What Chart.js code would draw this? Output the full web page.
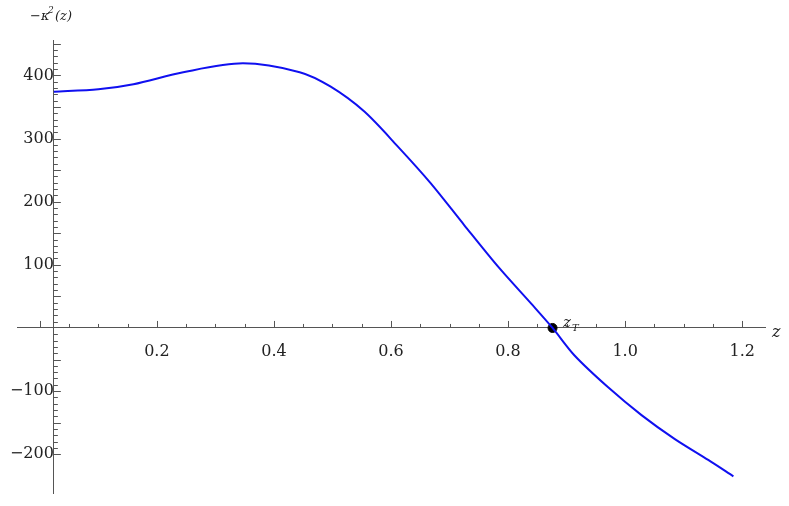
<!DOCTYPE html><html><head><script src="https://cdn.jsdelivr.net/npm/chart.js"></script>
<style>body{margin:0;background:#fff}#w{width:789px;height:506px}</style></head><body><div id="w"><canvas id="c"></canvas></div>
<script>
const zs=[0.024,0.1,0.16,0.245,0.347,0.444,0.497,0.554,0.611,0.668,0.725,0.783,0.840,0.876,0.914,0.971,1.028,1.085,1.142,1.185];
const kap=[374,378,386,405,419,405,382,343,288,229,163,97,38,0,-44,-94,-138,-176,-209,-235];
const turn=[{x:0.876,y:0}];
const xTicks=[0.2,0.4,0.6,0.8,1.0,1.2];
const yTicks=[-200,-100,100,200,300,400];
const fnt={family:'"DejaVu Serif","Liberation Serif",serif',size:16};
const deco={id:'deco',afterDraw(c){const g=c.ctx,x=c.scales.x,y=c.scales.y;g.save();
const x0=x.getPixelForValue(0.024),y0=y.getPixelForValue(0);
g.strokeStyle='#555';g.lineWidth=1;g.beginPath();
for(let i=-20;i<=45;i++){const v=i*10;if(v<y.min||v>y.max||i===0)continue;const p=Math.round(y.getPixelForValue(v))+0.5;const L=(i%5===0)?7:4;g.moveTo(x0,p);g.lineTo(x0+L,p);}
for(let i=0;i<=24;i++){const v=i*0.05;const p=Math.round(x.getPixelForValue(v))+0.5;const L=(i%4===0)?7:4;g.moveTo(p,y0);g.lineTo(p,y0-L);}
g.stroke();
g.fillStyle='#222';
g.font='italic 13px "DejaVu Serif",serif';g.fillText('−κ',30,20);g.font='italic 9px "DejaVu Serif",serif';g.fillText('2',48,13);g.font='italic 13px "DejaVu Serif",serif';g.fillText('(z)',55,20);
g.font='italic 16px "DejaVu Serif",serif';g.fillText('z',772,337);
g.font='italic 15px "DejaVu Serif",serif';g.fillText('z',563,327);g.font='italic 10px "DejaVu Serif",serif';g.fillText('T',572,331);g.restore();}};
new Chart(document.getElementById('c'),{type:'scatter',data:{datasets:[
{data:zs.map((v,i)=>({x:v,y:kap[i]})),showLine:true,borderColor:'#1010f0',borderWidth:2,pointRadius:0,tension:0.3},
{data:turn,pointRadius:4.5,backgroundColor:'#000',borderColor:'#000'}]},
options:{animation:false,responsive:true,maintainAspectRatio:false,layout:{padding:{left:17,right:24,top:40,bottom:6}},
plugins:{legend:{display:false},tooltip:{enabled:false}},
scales:{x:{type:'linear',min:-0.039,max:1.239,position:{y:0},border:{color:'#555'},grid:{display:false},
afterBuildTicks:s=>{s.ticks=xTicks.map(v=>({value:v}))},
ticks:{font:fnt,color:'#222',padding:6,maxRotation:0,autoSkip:false,callback:v=>v.toFixed(1)}},
y:{type:'linear',min:-262,max:456,position:{x:0.024},border:{color:'#555'},grid:{display:false},
afterBuildTicks:s=>{s.ticks=yTicks.map(v=>({value:v}))},
ticks:{font:fnt,color:'#222',padding:3,autoSkip:false,callback:v=>v<0?'−'+(-v):''+v}}}},plugins:[deco]});
</script></body></html>
